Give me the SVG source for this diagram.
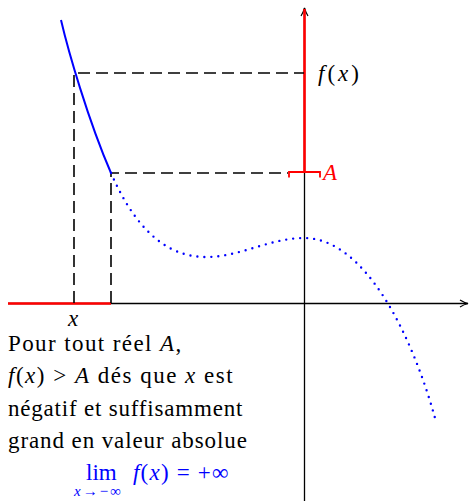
<svg xmlns="http://www.w3.org/2000/svg" width="470" height="501" viewBox="0 0 470 501">
<style>
.axis{stroke:#000;stroke-width:1.3;fill:none}
.red{stroke:#ff0000;stroke-width:2.6;fill:none}
.dash{stroke:#000;stroke-width:1.6;fill:none;stroke-dasharray:12 6}
.curve{stroke:#0000ff;stroke-width:2;fill:none}
.dots{stroke:#0000ff;stroke-width:2.4;fill:none;stroke-dasharray:0 7;stroke-linecap:round}
</style>
<defs>
<marker id="arr" viewBox="0 0 10 10" refX="9" refY="5" markerWidth="10" markerHeight="10" markerUnits="userSpaceOnUse" orient="auto">
<path d="M1,1.5 Q5,4 9,5 Q5,6 1,8.5" fill="none" stroke="#000" stroke-width="1.2"/>
</marker>
</defs>
<g id="connectors">
<path class="axis" d="M8,303.5 H468" marker-end="url(#arr)"/>
<path class="axis" d="M304.5,501 V8" marker-end="url(#arr)"/>
<path class="red" d="M8,303.5 H111"/>
<path class="red" d="M304.5,172 V9"/>
<path d="M289,177.5 V172 H320 V177.5" fill="none" stroke="#ff0000" stroke-width="1.8"/>
<path class="dash" d="M74,303 V73 H304"/>
<path class="dash" d="M111,303 V173 H288"/>
<path class="curve" d="M61,20 C68,50 88,120 111,173"/>
<path class="dots" d="M111,173 C140,240 175,257 206,257 C240,257 270,238 304,238 C365,238 412,335 435,418"/>
</g>
<g id="label-fx"><text x="318" y="81" font-family="Liberation Serif" font-size="23" letter-spacing="3"><tspan font-style="italic">f</tspan>(<tspan font-style="italic">x</tspan>)</text></g>
<g id="label-A"><text x="323" y="180" font-family="Liberation Serif" font-size="23" font-style="italic" fill="#ff0000">A</text></g>
<g id="label-x"><text x="68" y="326" font-family="Liberation Serif" font-size="23" font-style="italic">x</text></g>
<g id="description">
<text x="8" y="351" font-family="Liberation Serif" font-size="23" letter-spacing="1.4">Pour tout réel <tspan font-style="italic">A</tspan>,</text>
<text x="8" y="383" font-family="Liberation Serif" font-size="23" letter-spacing="1.5"><tspan font-style="italic">f</tspan>(<tspan font-style="italic">x</tspan>) &gt; <tspan font-style="italic">A</tspan> dés que <tspan font-style="italic">x</tspan> est</text>
<text x="8" y="416" font-family="Liberation Serif" font-size="23" letter-spacing="0.8">négatif et suffisamment</text>
<text x="8" y="448" font-family="Liberation Serif" font-size="23" letter-spacing="0.9">grand en valeur absolue</text>
</g>
<g id="limit">
<text x="86" y="480" font-family="Liberation Serif" font-size="23" fill="#0000ff">lim</text>
<text x="74" y="496" font-family="Liberation Serif" font-size="15" fill="#0000ff" letter-spacing="2"><tspan font-style="italic">x</tspan>→−∞</text>
<text x="133" y="480" font-family="Liberation Serif" font-size="23" fill="#0000ff" letter-spacing="1.2"><tspan font-style="italic">f</tspan>(<tspan font-style="italic">x</tspan>) = +∞</text>
</g>
</svg>
